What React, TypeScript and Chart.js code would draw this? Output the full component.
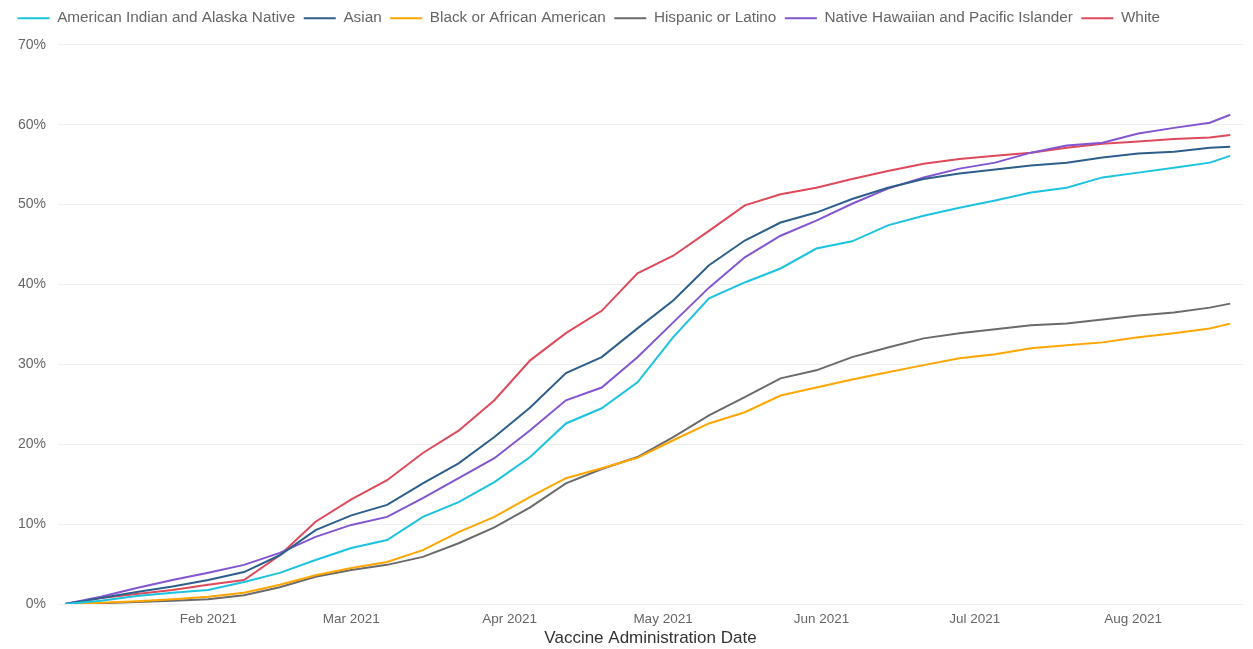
import { useEffect, useRef } from 'react';
import { Chart, registerables } from 'chart.js';

Chart.register(...registerables);

// Day index (0 = 1 Jan 2021) for each sampled point
const days = [3, 10, 17, 24, 31, 38, 45, 52, 59, 66, 73, 80, 87, 94, 101, 108, 115, 122, 129, 136, 143, 150, 157, 164, 171, 178, 185, 192, 199, 206, 213, 220, 227, 231];

const monthTickDays = [31, 59, 90, 120, 151, 181, 212];
const monthTickLabels = ['Feb 2021', 'Mar 2021', 'Apr 2021', 'May 2021', 'Jun 2021', 'Jul 2021', 'Aug 2021'];
const yTickValues = [0, 10, 20, 30, 40, 50, 60, 70];

const seriesNames = [
  'American Indian and Alaska Native',
  'Asian',
  'Black or African American',
  'Hispanic or Latino',
  'Native Hawaiian and Pacific Islander',
  'White',
];

const aian = [0, 0.4, 1.0, 1.4, 1.75, 2.75, 3.9, 5.5, 7.0, 8.0, 10.9, 12.75, 15.25, 18.4, 22.6, 24.5, 27.75, 33.4, 38.25, 40.25, 42, 44.5, 45.4, 47.4, 48.6, 49.6, 50.5, 51.5, 52.1, 53.4, 54, 54.6, 55.25, 56.1];
const asian = [0, 0.75, 1.5, 2.2, 3.0, 4.0, 6.1, 9.25, 11.1, 12.4, 15.1, 17.6, 20.9, 24.6, 28.9, 30.9, 34.5, 38, 42.4, 45.5, 47.75, 49, 50.7, 52.1, 53.2, 53.9, 54.4, 54.9, 55.25, 55.9, 56.4, 56.6, 57.1, 57.25];
const black = [0, 0.15, 0.35, 0.6, 0.9, 1.4, 2.4, 3.6, 4.5, 5.25, 6.75, 9, 10.9, 13.4, 15.75, 17, 18.3, 20.5, 22.6, 24, 26.1, 27.1, 28.1, 29, 29.9, 30.75, 31.25, 32, 32.4, 32.75, 33.4, 33.9, 34.5, 35.1];
const hispanic = [0, 0.1, 0.25, 0.4, 0.6, 1.1, 2.1, 3.4, 4.25, 4.9, 5.9, 7.6, 9.6, 12.1, 15.1, 16.9, 18.4, 20.9, 23.6, 25.9, 28.25, 29.25, 30.9, 32.1, 33.25, 33.9, 34.4, 34.9, 35.1, 35.6, 36.1, 36.5, 37.1, 37.6];
const nhpi = [0, 0.9, 2.0, 3.0, 3.9, 4.9, 6.4, 8.4, 9.9, 10.9, 13.25, 15.75, 18.25, 21.75, 25.5, 27.1, 30.9, 35.25, 39.6, 43.4, 46.1, 48, 50.1, 52, 53.4, 54.5, 55.25, 56.5, 57.4, 57.75, 58.9, 59.6, 60.25, 61.25];
const white = [0, 0.75, 1.25, 1.75, 2.4, 3.0, 6.1, 10.3, 13.1, 15.5, 18.9, 21.7, 25.5, 30.5, 33.9, 36.7, 41.4, 43.6, 46.7, 49.9, 51.3, 52.1, 53.2, 54.2, 55.1, 55.7, 56.1, 56.5, 57.1, 57.6, 57.9, 58.2, 58.4, 58.7];

const seriesValues = [aian, asian, black, hispanic, nhpi, white];
const seriesColors = ['#1CC3DE', '#2E5F8C', '#FFA600', '#6B6B6B', '#8455D1', '#DE4A5A'];

const FONT = "'Liberation Sans', Arial, sans-serif";

export default function App() {
  const ref = useRef<HTMLCanvasElement>(null);

  useEffect(() => {
    document.body.style.margin = '0';
    if (!ref.current) return;

    const legendSpacer = {
      id: 'legendSpacer',
      beforeInit(chart: any) {
        const legend = chart.legend;
        if (!legend) return;
        const origFit = legend.fit;
        legend.fit = function () {
          origFit.call(this);
          this.height += 9;
        };
      },
    };

    const chart = new Chart(ref.current, {
      type: 'line',
      data: {
        datasets: seriesNames.map((name, i) => ({
          label: name,
          data: seriesValues[i].map((v, j) => ({ x: days[j], y: v })),
          borderColor: seriesColors[i],
          backgroundColor: seriesColors[i],
          borderWidth: 2,
          pointRadius: 0,
          pointHoverRadius: 0,
          tension: 0,
          fill: false,
        })),
      },
      options: {
        animation: false,
        responsive: true,
        maintainAspectRatio: false,
        layout: { padding: { left: 9, right: 10, top: 2, bottom: 0 } },
        plugins: {
          tooltip: { enabled: false },
          legend: {
            position: 'top',
            align: 'start',
            labels: {
              usePointStyle: true,
              pointStyle: 'line',
              pointStyleWidth: 32,
              padding: 8.5,
              color: '#666666',
              font: { family: FONT, size: 15.3 },
            },
          },
        },
        scales: {
          x: {
            type: 'linear',
            min: 1.6,
            max: 233.5,
            afterBuildTicks: (scale: any) => {
              scale.ticks = monthTickDays.map((d) => ({ value: d }));
            },
            afterFit: (scale: any) => {
              scale.height = 45;
            },
            ticks: {
              autoSkip: false,
              maxRotation: 0,
              padding: 7,
              color: '#666666',
              font: { family: FONT, size: 13.5 },
              callback: (value: any) => {
                const idx = monthTickDays.indexOf(Number(value));
                return idx >= 0 ? monthTickLabels[idx] : '';
              },
            },
            grid: { display: false, drawTicks: false },
            border: { display: false },
            title: {
              display: true,
              text: 'Vaccine Administration Date',
              color: '#333333',
              font: { family: FONT, size: 17 },
              padding: { top: 0, bottom: 0 },
            },
          },
          y: {
            min: 0,
            max: 70,
            afterBuildTicks: (scale: any) => {
              scale.ticks = yTickValues.map((v) => ({ value: v }));
            },
            afterFit: (scale: any) => {
              scale.width = 49;
            },
            ticks: {
              padding: 12,
              color: '#666666',
              font: { family: FONT, size: 14 },
              callback: (value: any) => value + '%',
            },
            grid: { color: '#EFEFEF', drawTicks: false, lineWidth: 1 },
            border: { display: false },
          },
        },
      },
      plugins: [legendSpacer],
    });

    return () => chart.destroy();
  }, []);

  return (
    <div style={{ width: '1253px', height: '649px', position: 'relative' }}>
      <canvas ref={ref} />
    </div>
  );
}
